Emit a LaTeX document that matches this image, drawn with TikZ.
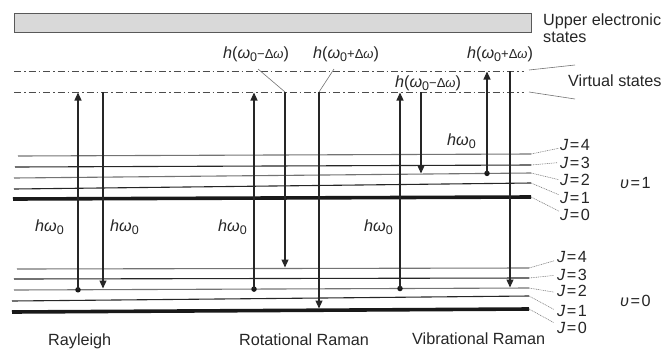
\documentclass[tikz,border=0pt]{standalone}
\usepackage{fontspec}
\setmainfont{Liberation Sans}
\usetikzlibrary{arrows.meta}
\newcommand{\myom}{\textit{ω}}
\newcommand{\zsub}{\raisebox{-0.4ex}{\fontsize{12.5}{12}\selectfont 0}}
\newcommand{\hwo}{\textit{h}\myom\zsub}
\newcommand{\hwm}{\textit{h}(\myom\zsub{\fontsize{13}{12}\selectfont −Δ\myom})}
\newcommand{\hwp}{\textit{h}(\myom\zsub{\fontsize{13}{12}\selectfont +Δ\myom})}
\newcommand{\jl}[1]{\textit{J}\kern1.5pt=\kern1.5pt#1}
\begin{document}
\begin{tikzpicture}[x=1pt,y=-1pt,
  every node/.style={font=\fontsize{16.2}{17}\selectfont, inner sep=0pt, text=black!85},
  lab/.style={anchor=base west},
  lvl/.style={line width=1.1pt, draw=black!55},
  lvldark/.style={line width=1.1pt, draw=black!85},
  lvlbase/.style={line width=3.6pt, draw=black!90},
  vstate/.style={line width=0.8pt, draw=black!70, dash pattern=on 7pt off 3pt on 1.5pt off 3pt},
  photon/.style={line width=1.1pt, draw=black!85, -{Triangle[length=8pt,width=7pt]}},
  leader/.style={line width=0.6pt, draw=black!50, dash pattern=on 1pt off 0.8pt},
  sleader/.style={line width=0.6pt, draw=black!55},
  dotc/.style={circle, fill=black!90, minimum size=5.5pt, inner sep=0pt},
  uppbox/.style={draw=black!65, fill=black!15, line width=0.8pt, minimum width=517pt, minimum height=19pt, anchor=north west}]
\useasboundingbox (0,0) rectangle (664,349);

% upper electronic states
\node[uppbox] (upbox) at (14,13) {};
\node[lab] (uplab) at (543,25.7) {Upper electronic};
\node[lab] (uplab2) at (543,42.3) {states};

% virtual states
\coordinate (va1) at (14,71);  \coordinate (va2) at (524,71);
\coordinate (vb1) at (14,92);  \coordinate (vb2) at (524,92);
\draw[vstate] (va1) -- (va2);
\draw[vstate] (vb1) -- (vb2);
\node[lab] (vlab) at (568,86.7) {Virtual states};
\coordinate (vla) at (529,70); \coordinate (vlae) at (575,65);
\coordinate (vlb) at (529,92); \coordinate (vlbe) at (575,99);
\draw[sleader] (vla) -- (vlae);
\draw[sleader] (vlb) -- (vlbe);

% v = 1 levels
\coordinate (a4l) at (18,156); \coordinate (a4) at (531,154);
\coordinate (a3l) at (15,167); \coordinate (a3) at (531,165);
\coordinate (a2l) at (14,178); \coordinate (a2) at (531,173);
\coordinate (a1l) at (14,189); \coordinate (a1) at (531,183);
\coordinate (a0l) at (13,199); \coordinate (a0) at (531,197);
\draw[lvl] (a4l) -- (a4);
\draw[lvldark] (a3l) -- (a3);
\draw[lvl] (a2l) -- (a2);
\draw[lvldark] (a1l) -- (a1);
\draw[lvlbase] (a0l) -- (a0);

% v = 0 levels
\coordinate (b4l) at (17,269); \coordinate (b4) at (529,268);
\coordinate (b3l) at (14,279); \coordinate (b3) at (529,278);
\coordinate (b2l) at (14,290); \coordinate (b2) at (529,288);
\coordinate (b1l) at (12,301); \coordinate (b1) at (529,296);
\coordinate (b0l) at (12,312); \coordinate (b0) at (529,309);
\draw[lvl] (b4l) -- (b4);
\draw[lvldark] (b3l) -- (b3);
\draw[lvl] (b2l) -- (b2);
\draw[lvldark] (b1l) -- (b1);
\draw[lvlbase] (b0l) -- (b0);

% J labels v=1
\node[lab] (ja4) at (560,150.7) {\jl{4}};
\node[lab] (ja3) at (560,168.3) {\jl{3}};
\node[lab] (ja2) at (560,185.3) {\jl{2}};
\node[lab] (ja1) at (560,203.3) {\jl{1}};
\node[lab] (ja0) at (560,220.7) {\jl{0}};
\draw[leader] (a4) -- ([shift={(-1pt,-3pt)}]ja4.west);
\draw[leader] (a3) -- ([shift={(-3pt,0pt)}]ja3.west);
\draw[leader] (a2) -- ([shift={(-1pt,0pt)}]ja2.west);
\draw[leader] (a1) -- ([shift={(-1pt,3pt)}]ja1.west);
\draw[leader] (a0) -- ([shift={(-1pt,4pt)}]ja0.west);
\node[lab] (va) at (620,188.3) {\textit{υ}\kern1.5pt=\kern1.5pt1};

% J labels v=0
\node[lab] (jb4) at (557,262.3) {\jl{4}};
\node[lab] (jb3) at (557,280) {\jl{3}};
\node[lab] (jb2) at (557,296.7) {\jl{2}};
\node[lab] (jb1) at (557,316) {\jl{1}};
\node[lab] (jb0) at (557,333.3) {\jl{0}};
\draw[leader] (b4) -- ([shift={(-3pt,-4pt)}]jb4.west);
\draw[leader] (b3) -- ([shift={(-3pt,-1pt)}]jb3.west);
\draw[leader] (b2) -- ([shift={(-3pt,-1pt)}]jb2.west);
\draw[leader] (b1) -- ([shift={(-3pt,1pt)}]jb1.west);
\draw[leader] (b0) -- ([shift={(-3pt,5pt)}]jb0.west);
\node[lab] (vb) at (620,306) {\textit{υ}\kern1.5pt=\kern1.5pt0};

% Rayleigh
\node[dotc] (rdot) at (78,289.8) {};
\coordinate (rtop) at (78,92.5);
\draw[photon] (rdot.center) -- (rtop);
\coordinate (rdtop) at (103,92); \coordinate (rdend) at (103,288.5);
\draw[photon] (rdtop) -- (rdend);
\node[lab] (hr1) at (35,231) {\hwo};
\node[lab] (hr2) at (110,231) {\hwo};

% Rotational Raman
\node[dotc] (odot) at (254,289.1) {};
\coordinate (otop) at (254,92.5);
\draw[photon] (odot.center) -- (otop);
\coordinate (os1) at (285,92); \coordinate (os1e) at (285,267.5);
\draw[photon] (os1) -- (os1e);
\coordinate (os2) at (319,92); \coordinate (os2e) at (319,308.5);
\draw[photon] (os2) -- (os2e);
\node[lab] (ho1) at (218,231) {\hwo};
\node[lab] (hom) at (223,58.3) {\hwm};
\node[lab] (hop) at (313,58.3) {\hwp};
\coordinate (homl) at (258,69); \coordinate (hopl) at (334,69);
\draw[sleader] (homl) -- (os1);
\draw[sleader] (hopl) -- (os2);

% Vibrational Raman
\node[dotc] (vdot) at (400,288.5) {};
\coordinate (vtop) at (400,92.5);
\draw[photon] (vdot.center) -- (vtop);
\coordinate (vs1) at (421,92); \coordinate (vs1e) at (421,173.5);
\draw[photon] (vs1) -- (vs1e);
\node[dotc] (vdot2) at (487,173.4) {};
\coordinate (vtop2) at (487,71.5);
\draw[photon] (vdot2.center) -- (vtop2);
\coordinate (vs2) at (510,71); \coordinate (vs2e) at (510,287.5);
\draw[photon] (vs2) -- (vs2e);
\node[lab] (hv1) at (364,231) {\hwo};
\node[lab] (hv2) at (447,145) {\hwo};
\node[lab] (hvm) at (395,87.3) {\hwm};
\node[lab] (hvp) at (467,58.3) {\hwp};

% bottom titles
\node[lab] (t1) at (48,345) {Rayleigh};
\node[lab] (t2) at (239,345) {Rotational Raman};
\node[lab] (t3) at (412,344) {Vibrational Raman};
\end{tikzpicture}
\end{document}
